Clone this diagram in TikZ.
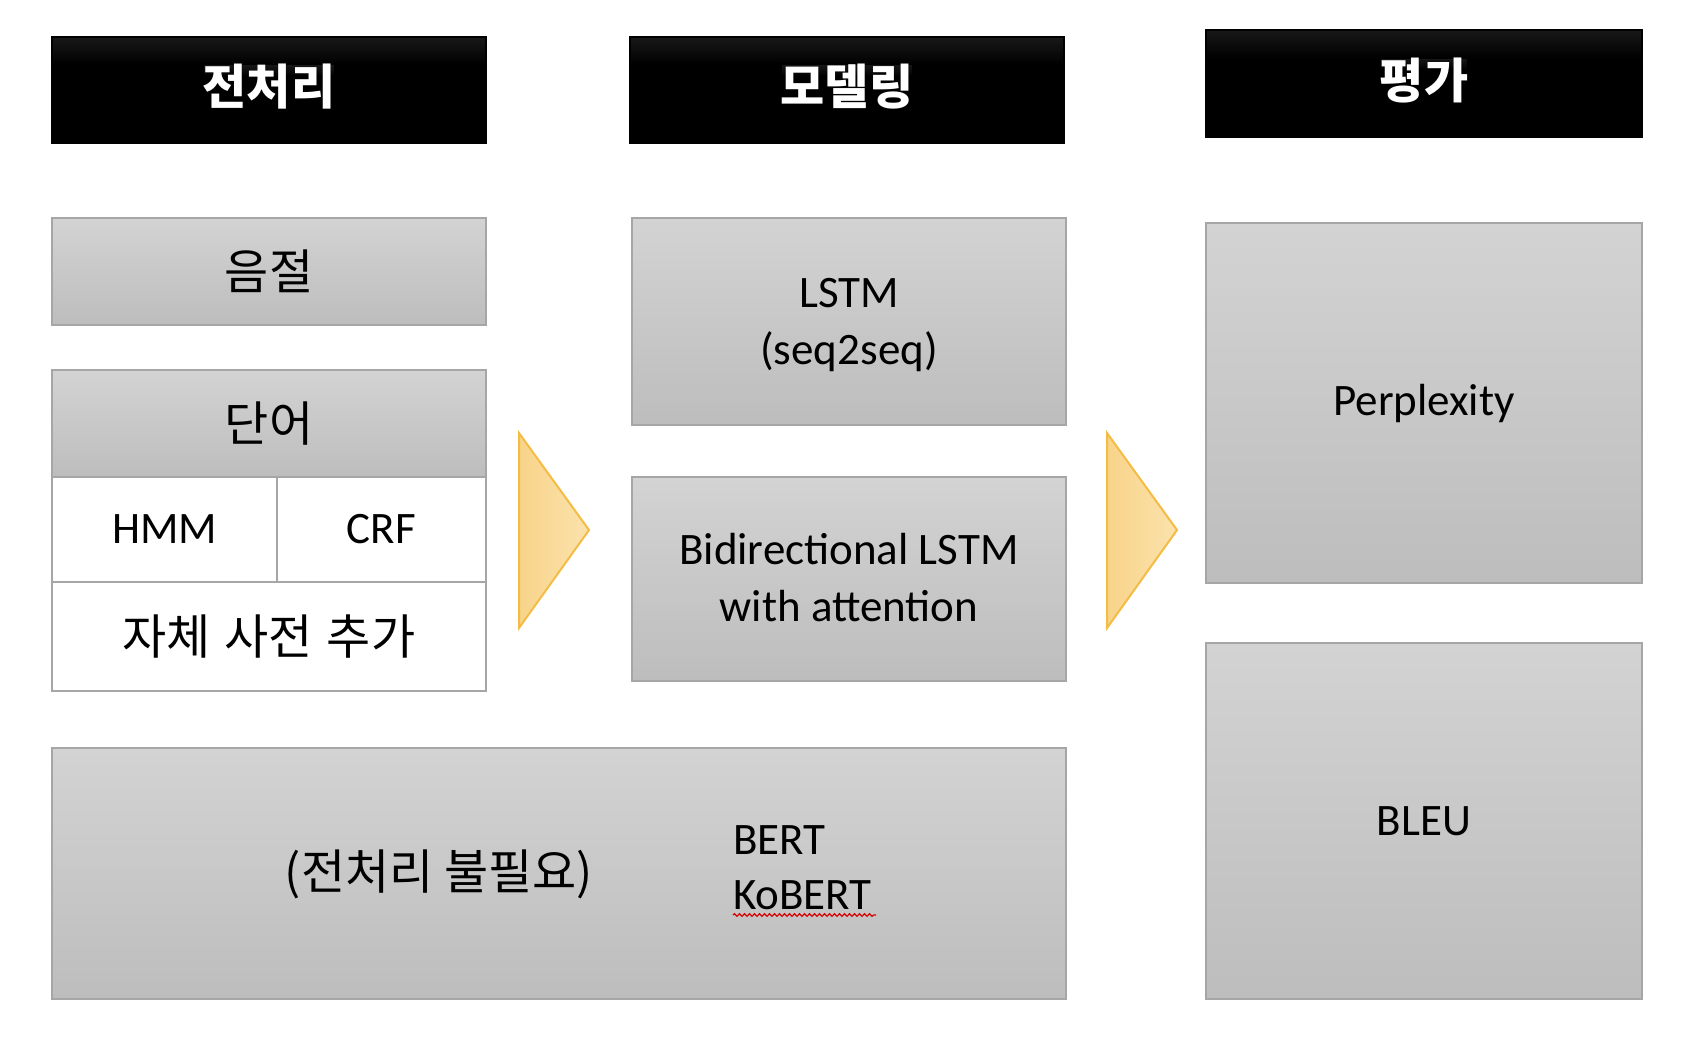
\documentclass[tikz,border=0pt]{standalone}
\usepackage{fontspec}
\setmainfont{Carlito}
\newfontfamily\kr{Noto Sans CJK KR}
\usetikzlibrary{decorations.pathmorphing}
\definecolor{boxline}{HTML}{A6A6A6}
\definecolor{boxtop}{HTML}{D3D3D3}
\definecolor{boxbot}{HTML}{BDBDBD}
\definecolor{arrfill}{HTML}{F8D48A}
\definecolor{arrlight}{HTML}{FBE2AC}
\definecolor{arrline}{HTML}{F4BB45}
\pgfdeclareverticalshading{hdrshade}{100bp}{color(0bp)=(black); color(62bp)=(black); color(100bp)=(black!72!white)}
\tikzset{
  base/.style={inner sep=0pt, outer sep=0pt, anchor=north west},
  hdr/.style={base, draw=black, line width=2pt, shading=hdrshade, text=white,
    font=\kr\bfseries\fontsize{48}{52}\selectfont},
  graybox/.style={base, draw=boxline, line width=2pt, top color=boxtop, bottom color=boxbot},
  whitebox/.style={base, draw=boxline, line width=2pt, fill=white},
  latin/.style={font=\fontsize{45}{57}\selectfont, align=center, inner sep=0pt},
  hangul/.style={font=\kr\fontsize{48}{56}\selectfont, align=center, inner sep=0pt},
  chev/.style={draw=arrline, line width=2pt, left color=arrfill, right color=arrlight, line join=miter},
}
\begin{document}
\begin{tikzpicture}[x=1pt, y=-1pt]
\useasboundingbox[fill=white] (0,0) rectangle (1688,1042);

% headers
\node[hdr, minimum width=434pt, minimum height=106pt] (h1) at (52,37) {};
\node[hdr] (h1t) at ([yshift=3pt]h1.center) [anchor=center] {전처리};
\node[hdr, minimum width=434pt, minimum height=106pt] (h2) at (630,37) {};
\node[hdr] (h2t) at ([yshift=3pt]h2.center) [anchor=center] {모델링};
\node[hdr, minimum width=436pt, minimum height=107pt] (h3) at (1206,30) {};
\node[hdr] (h3t) at ([yshift=3pt]h3.center) [anchor=center] {평가};

% column 1
\node[graybox, minimum width=434pt, minimum height=107pt] (eum) at (52,218) {};
\node[hangul] (eumt) at (eum.center) {음절};
\node[graybox, minimum width=434pt, minimum height=107pt] (dan) at (52,370) {};
\node[hangul] (dant) at (dan.center) {단어};
\node[whitebox, minimum width=225pt, minimum height=105pt] (hmm) at (52,477) {};
\node[latin] (hmmt) at (hmm.center) {HMM};
\node[whitebox, minimum width=209pt, minimum height=105pt] (crf) at (277,477) {};
\node[latin] (crft) at (crf.center) {CRF};
\node[whitebox, minimum width=434pt, minimum height=109pt] (dic) at (52,582) {};
\node[hangul] (dict) at (dic.center) {자체\hspace{3pt} 사전\hspace{3pt} 추가};

% column 2
\node[graybox, minimum width=434pt, minimum height=207pt] (lstm) at (632,218) {};
\node[latin] (lstmt) at ([yshift=-4pt]lstm.center) {LSTM\\(seq2seq)};
\node[graybox, minimum width=434pt, minimum height=204pt] (bil) at (632,477) {};
\node[latin] (bilt) at ([yshift=1pt]bil.center) {Bidirectional LSTM\\with attention};

% bottom
\node[graybox, minimum width=1014pt, minimum height=251pt] (bot) at (52,748) {};
\node[hangul] (nopre) at (439,874) {(전처리 불필요)};
\node[latin, anchor=base west] (bert) at (733,854) {BERT};
\node[latin, anchor=base west] (kob) at (733,909) {KoBERT};
\draw[red!85!black, line width=1.2pt, decorate, decoration={snake, segment length=5pt, amplitude=1.3pt}]
  ([yshift=-6pt]kob.base west) -- ([yshift=-6pt, xshift=4pt]kob.base east);

% column 3
\node[graybox, minimum width=436pt, minimum height=360pt] (ppl) at (1206,223) {};
\node[latin] (pplt) at (ppl.center) {Perplexity};
\node[graybox, minimum width=436pt, minimum height=356pt] (bleu) at (1206,643) {};
\node[latin] (bleut) at (bleu.center) {BLEU};

% chevrons
\coordinate (a1t) at (519,433);
\coordinate (a1p) at (589,530);
\coordinate (a1b) at (519,628);
\draw[chev] (a1t) -- (a1p) -- (a1b) -- cycle;
\coordinate (a2t) at (1107,433);
\coordinate (a2p) at (1177,530);
\coordinate (a2b) at (1107,628);
\draw[chev] (a2t) -- (a2p) -- (a2b) -- cycle;
\end{tikzpicture}
\end{document}
